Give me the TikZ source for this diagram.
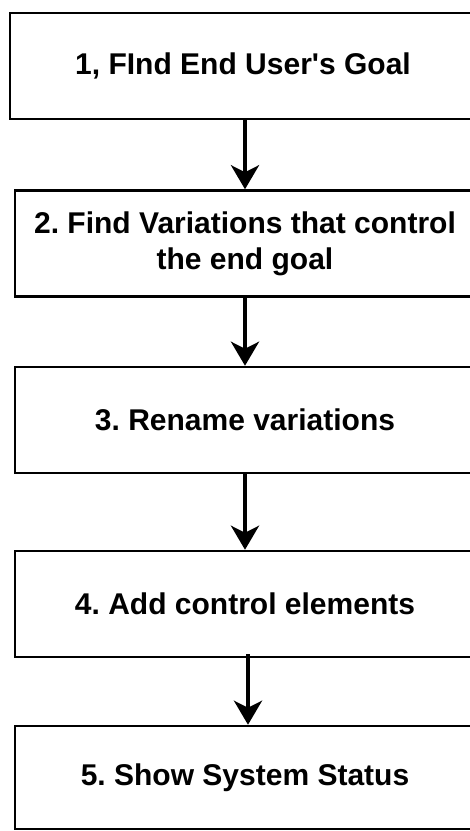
\documentclass[tikz,border=0pt]{standalone}
\usepackage{fontspec}
\setmainfont{Liberation Sans}
\usetikzlibrary{positioning,arrows.meta}
\frenchspacing

\begin{document}
\begin{tikzpicture}[x=1pt,y=1pt,>={Stealth[length=24pt,width=28pt,inset=7pt]},
    stepbox/.style={draw,line width=2.5pt,minimum width=460pt,minimum height=106pt,
      align=center,inner sep=0pt,font=\fontsize{30}{36}\selectfont\bfseries},
    flow/.style={->,line width=4pt}]
  \useasboundingbox (0,0) rectangle (470,-831);
  % the five steps, top to bottom
  \node[stepbox,minimum width=466pt] (goal) at (243,-66) {1, FInd End User\textquotesingle s Goal};
  \node[stepbox] (vari) at (245,-243.5) {2. Find Variations that control\\the end goal};
  \node[stepbox] (rename) at (245,-420) {3. Rename variations};
  \node[stepbox] (ctrl) at (245,-604) {4. Add control elements};
  \node[stepbox,minimum height=103pt] (status) at (245,-777.5) {5. Show System Status};
  % arrows
  \draw[flow] (goal.south -| vari.north) -- (vari.north);
  \draw[flow] (vari.south) -- (rename.north);
  \draw[flow] (rename.south) -- (ctrl.north);
  \draw[flow] ([xshift=3pt,yshift=4pt]ctrl.south) -- ([xshift=3pt]status.north);
\end{tikzpicture}
\end{document}
